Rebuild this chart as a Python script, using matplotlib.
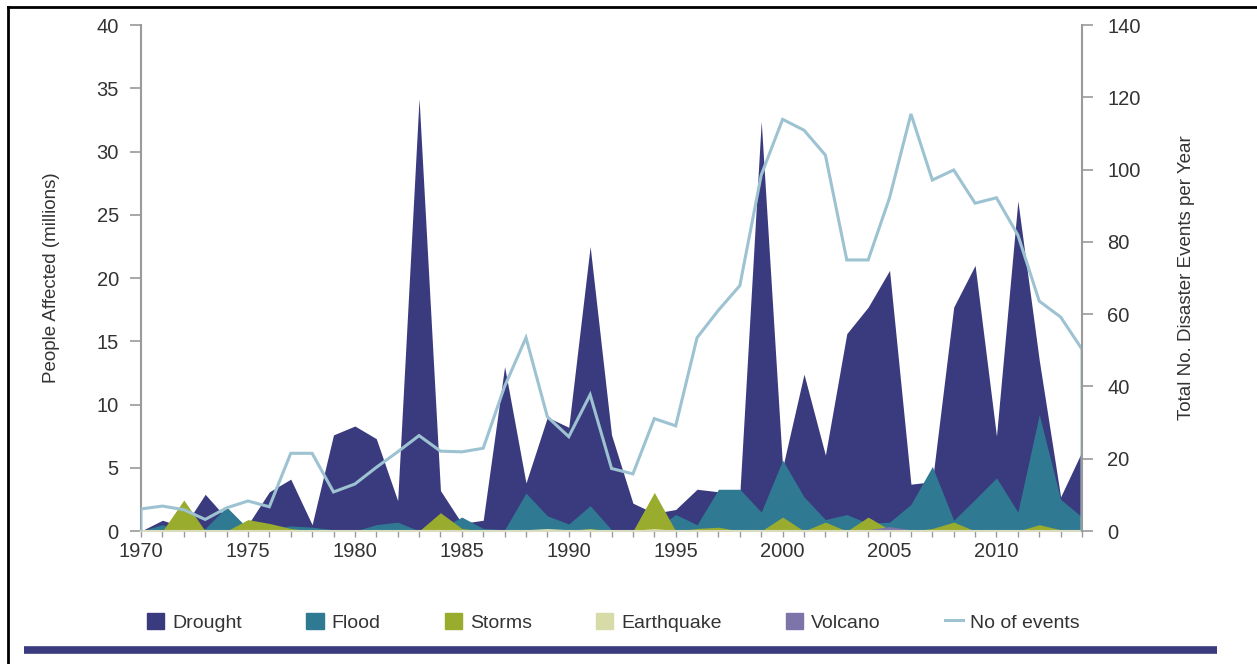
import matplotlib
matplotlib.use("Agg")
import matplotlib.pyplot as plt
import matplotlib.patches as mpatches
from matplotlib.lines import Line2D

plt.rcParams['font.family'] = ['Liberation Sans', 'DejaVu Sans']

# Data (people affected, millions) 1970-2014
years = list(range(1970, 2015))
drought = [0.0, 0.85, 0.3, 2.9, 1.0, 0.5, 3.1, 4.1, 0.5, 7.6, 8.3, 7.3, 2.4, 34.2, 3.2,
           0.6, 0.85, 13.0, 3.8, 9.0, 8.2, 22.5, 7.6, 2.2, 1.4, 1.7, 3.3, 3.1, 3.0, 32.4,
           5.0, 12.4, 6.0, 15.6, 17.7, 20.6, 3.7, 3.9, 17.7, 21.0, 7.5, 26.1, 13.5, 2.7, 6.3]
flood = [0.0, 0.5, 0.0, 0.2, 1.9, 0.2, 0.1, 0.4, 0.3, 0.1, 0.0, 0.5, 0.7, 0.0, 0.2,
         1.1, 0.2, 0.1, 3.0, 1.2, 0.55, 2.0, 0.1, 0.1, 0.1, 1.3, 0.5, 3.3, 3.3, 1.5,
         5.6, 2.7, 0.9, 1.3, 0.6, 0.7, 2.1, 5.1, 0.85, 2.5, 4.2, 1.5, 9.2, 2.5, 1.1]
storms = [0.0, 0.0, 2.45, 0.0, 0.0, 0.9, 0.6, 0.2, 0.0, 0.0, 0.0, 0.0, 0.0, 0.0, 1.45,
          0.2, 0.0, 0.0, 0.0, 0.0, 0.0, 0.2, 0.0, 0.0, 3.05, 0.0, 0.2, 0.3, 0.0, 0.0,
          1.1, 0.0, 0.7, 0.0, 1.1, 0.1, 0.0, 0.2, 0.7, 0.0, 0.0, 0.0, 0.5, 0.1, 0.0]
earthquake = [0.0, 0.05, 0.0, 0.0, 0.05, 0.0, 0.1, 0.05, 0.0, 0.0, 0.0, 0.0, 0.0, 0.0, 0.0,
              0.05, 0.0, 0.0, 0.1, 0.2, 0.1, 0.15, 0.0, 0.05, 0.2, 0.05, 0.0, 0.0, 0.0, 0.1,
              0.05, 0.1, 0.1, 0.0, 0.1, 0.05, 0.1, 0.0, 0.1, 0.0, 0.05, 0.0, 0.05, 0.0, 0.0]
volcano = [0.0] * 34 + [0.1, 0.35, 0.1] + [0.0] * 8
# Total number of disaster events per year
events = [6.1, 6.9, 5.9, 3.2, 6.4, 8.3, 6.7, 21.5, 21.5, 10.8, 13.0, 17.6, 21.9, 26.4, 22.1,
          21.9, 22.9, 40.0, 53.5, 31.6, 26.1, 37.7, 17.3, 15.8, 31.1, 29.1, 53.5, 61.1, 67.9, 98.5,
          113.9, 110.9, 104.0, 75.0, 75.0, 92.2, 115.4, 97.1, 99.9, 90.7, 92.2, 81.9, 63.6, 59.2, 50.3]

series = ['Drought', 'Flood', 'Storms', 'Earthquake', 'Volcano']
values = [drought, flood, storms, earthquake, volcano]
colors = ['#3a3a7e', '#2f7a92', '#9aac2e', '#d6dba8', '#7d74aa']
line_color = '#9dc2d1'
text_color = '#333333'
spine_color = '#9a9a9a'

fig = plt.figure(figsize=(12.57, 6.64), dpi=100)
ax = fig.add_axes([0.1122, 0.2003, 0.7486, 0.762])

for name, vals, col in zip(series, values, colors):
    ax.fill_between(years, 0, vals, color=col, linewidth=0, label=name)

ax.set_xlim(1970, 2014)
ax.set_ylim(0, 40)
ax.set_yticks(range(0, 41, 5))
ax.set_xticks(range(1970, 2015, 5))
ax.set_xticks(years, minor=True)
ax.tick_params(axis='y', length=8, width=1.2, color=spine_color, pad=8,
               labelsize=14.5, labelcolor=text_color)
ax.tick_params(axis='x', which='both', length=4, width=1, color=spine_color, pad=4,
               labelsize=14.5, labelcolor=text_color)
ax.set_ylabel('People Affected (millions)', fontsize=13.5, color=text_color, labelpad=26)
for s in ['top', 'right']:
    ax.spines[s].set_visible(False)
ax.spines['left'].set_color(spine_color)
ax.spines['left'].set_linewidth(1.5)
ax.spines['bottom'].set_color('#d9dcc0')
ax.spines['bottom'].set_linewidth(1.5)

ax2 = ax.twinx()
ax2.plot([years[0]] + years + [years[-1]], [0] + events + [0],
         color=line_color, linewidth=2.2, solid_joinstyle='miter')
ax2.set_ylim(0, 140)
ax2.set_yticks(range(0, 141, 20))
ax2.tick_params(axis='y', length=8, width=1.2, color=spine_color, pad=10,
                labelsize=14.5, labelcolor=text_color)
ax2.set_ylabel('Total No. Disaster Events per Year', fontsize=13.5, color=text_color,
               labelpad=27)
for s in ['top', 'left', 'bottom']:
    ax2.spines[s].set_visible(False)
ax2.spines['right'].set_color(spine_color)
ax2.spines['right'].set_linewidth(1.5)

handles = [mpatches.Patch(color=c, label=n) for n, c in zip(series, colors)]
handles.append(Line2D([], [], color=line_color, linewidth=2.2, label='No of events'))
fig.legend(handles=handles, loc='center', bbox_to_anchor=(0.488, 0.063), ncol=6,
           frameon=False, fontsize=14, handlelength=0.9, handleheight=0.9,
           handletextpad=0.4, columnspacing=3.3, labelcolor=text_color)

# page frame and bottom rule
fig.add_artist(Line2D([0.0064, 0.0064], [0, 0.9895], transform=fig.transFigure,
                      color='black', linewidth=2))
fig.add_artist(Line2D([0.0064, 1], [0.9895, 0.9895], transform=fig.transFigure,
                      color='black', linewidth=2))
fig.add_artist(Line2D([0.019, 0.968], [0.021, 0.021], transform=fig.transFigure,
                      color='#3a3a7e', linewidth=5.5, solid_capstyle='butt'))

fig.savefig('out.png', dpi=100)
